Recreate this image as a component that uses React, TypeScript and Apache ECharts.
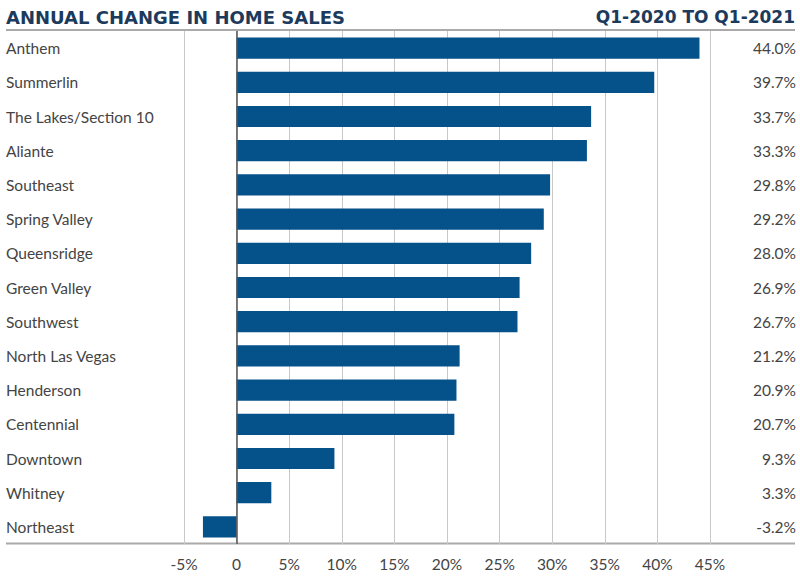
import React, { useEffect, useRef } from "react";
import * as echarts from "echarts";

const categories = [
  "Anthem", "Summerlin", "The Lakes/Section 10", "Aliante", "Southeast", "Spring Valley",
  "Queensridge", "Green Valley", "Southwest", "North Las Vegas", "Henderson", "Centennial",
  "Downtown", "Whitney", "Northeast",
];
const values = [44.0, 39.7, 33.7, 33.3, 29.8, 29.2, 28.0, 26.9, 26.7, 21.2, 20.9, 20.7, 9.3, 3.3, -3.2];
const titleLeft = "ANNUAL CHANGE IN HOME SALES";
const titleRight = "Q1-2020 TO Q1-2021";

const FONT = "Lato";
const TFONT = "'DejaVu Sans'";

export default function App() {
  const ref = useRef<HTMLDivElement>(null);
  useEffect(() => {
    if (!ref.current) return;
    const chart = echarts.init(ref.current, null, { renderer: "svg" });
    chart.setOption({
      animation: false,
      textStyle: { fontFamily: FONT },
      grid: { left: 184, right: 90, top: 31, bottom: 35, containLabel: false },
      xAxis: {
        type: "value",
        min: -5,
        max: 45,
        interval: 5,
        axisLine: { show: false },
        axisTick: { show: false },
        splitLine: { show: true, lineStyle: { color: "#c8c8c8", width: 1 } },
        axisLabel: {
          color: "#444",
          fontSize: 15.5,
          fontFamily: FONT,
          margin: 12,
          formatter: (v: number) => (v === 0 ? "0" : v + "%"),
        },
      },
      yAxis: [
        {
          type: "category",
          data: categories,
          inverse: true,
          axisLine: { show: false },
          axisTick: { show: false },
          axisLabel: { color: "#444", fontSize: 15.5, fontFamily: FONT, align: "left", margin: 178 },
        },
        {
          type: "category",
          data: categories,
          inverse: true,
          position: "right",
          axisLine: { show: false },
          axisTick: { show: false },
          axisLabel: {
            color: "#444",
            fontSize: 15.5,
            fontFamily: FONT,
            align: "right",
            margin: 86,
            formatter: (_v: string, i: number) => values[i].toFixed(1) + "%",
          },
        },
      ],
      series: [
        {
          type: "bar",
          data: values,
          barCategoryGap: "38%",
          itemStyle: { color: "#05518a" },
          markLine: {
            silent: true,
            symbol: "none",
            label: { show: false },
            lineStyle: { color: "#555", width: 1.5, type: "solid" },
            data: [{ xAxis: 0 }],
          },
        },
      ],
      graphic: [
        {
          type: "text",
          left: 6,
          top: 8,
          style: { text: titleLeft, fill: "#1b3a5c", font: `bold 18px ${TFONT}` },
        },
        {
          type: "text",
          right: 5,
          top: 8,
          style: { text: titleRight, fill: "#1b3a5c", font: `bold 17px ${TFONT}` },
        },
        {
          type: "line",
          shape: { x1: 6, y1: 30, x2: 795, y2: 30 },
          style: { stroke: "#aaa", lineWidth: 2 },
        },
        {
          type: "line",
          shape: { x1: 6, y1: 543.5, x2: 795, y2: 543.5 },
          style: { stroke: "#aaa", lineWidth: 2 },
        },
      ],
    });
    return () => chart.dispose();
  }, []);
  return <div ref={ref} style={{ width: 800, height: 579, position: "absolute", left: 0, top: 0 }} />;
}
